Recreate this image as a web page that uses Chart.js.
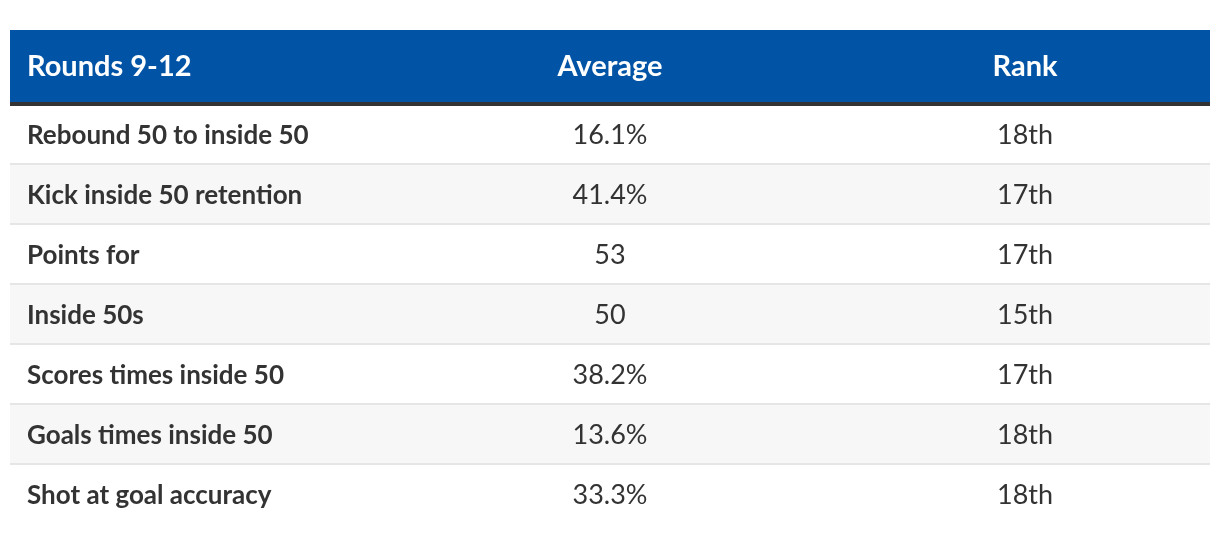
<!DOCTYPE html>
<html>
<head>
<meta charset="utf-8">
<script src="https://cdn.jsdelivr.net/npm/chart.js@4"></script>
<style>
  html, body { margin: 0; padding: 0; background: #fff; }
  #wrap { width: 1220px; height: 534px; position: relative; }
</style>
</head>
<body>
<div id="wrap"><canvas id="tableChart"></canvas></div>
<script>
const headers = ["Rounds 9-12", "Average", "Rank"];
const metrics = [
  "Rebound 50 to inside 50",
  "Kick inside 50 retention",
  "Points for",
  "Inside 50s",
  "Scores times inside 50",
  "Goals times inside 50",
  "Shot at goal accuracy"
];
const averages = ["16.1%", "41.4%", "53", "50", "38.2%", "13.6%", "33.3%"];
const ranks = ["18th", "17th", "17th", "15th", "17th", "18th", "18th"];

// column edges on the x scale (0..12)
const colEdges = [0, 3.7, 8.3, 12];
const FONT = "Lato, 'Open Sans', sans-serif";

const tablePlugin = {
  id: "tablePlugin",
  afterDatasetsDraw(chart) {
    const { ctx, chartArea } = chart;
    const x = chart.scales.x;
    const y = chart.scales.y;

    // row dividers
    ctx.save();
    ctx.strokeStyle = "#e6e6e6";
    ctx.lineWidth = 2;
    for (let i = 0; i < metrics.length - 1; i++) {
      const yy = (y.getPixelForValue(i) + y.getPixelForValue(i + 1)) / 2 - 1;
      ctx.beginPath();
      ctx.moveTo(chartArea.left, yy);
      ctx.lineTo(chartArea.right, yy);
      ctx.stroke();
    }

    // cells
    ctx.fillStyle = "#333333";
    ctx.textBaseline = "alphabetic";
    const c1 = x.getPixelForValue(colEdges[0]) + 17;
    const c2 = (x.getPixelForValue(colEdges[1]) + x.getPixelForValue(colEdges[2])) / 2;
    const c3 = (x.getPixelForValue(colEdges[2]) + x.getPixelForValue(colEdges[3])) / 2;
    metrics.forEach((m, i) => {
      const base = y.getPixelForValue(i) + 9;
      ctx.font = "bold 26px " + FONT;
      ctx.textAlign = "left";
      ctx.fillText(m, c1, base);
      ctx.font = "27px " + FONT;
      ctx.textAlign = "center";
      ctx.fillText(averages[i], c2, base);
      ctx.fillText(ranks[i], c3, base);
    });

    // header
    const top = chartArea.top - 75;
    ctx.fillStyle = "#0053a5";
    ctx.fillRect(chartArea.left, top, chartArea.right - chartArea.left, 72);
    ctx.fillStyle = "#333333";
    ctx.fillRect(chartArea.left, top + 72, chartArea.right - chartArea.left, 4);
    ctx.fillStyle = "#ffffff";
    ctx.font = "bold 29px " + FONT;
    ctx.textAlign = "left";
    ctx.fillText(headers[0], c1, top + 46);
    ctx.textAlign = "center";
    ctx.fillText(headers[1], c2, top + 46);
    ctx.fillText(headers[2], c3, top + 46);
    ctx.restore();
  }
};

new Chart(document.getElementById("tableChart"), {
  type: "bar",
  data: {
    labels: metrics,
    datasets: [{
      data: metrics.map(() => [colEdges[0], colEdges[3]]),
      backgroundColor: metrics.map((m, i) => i % 2 ? "#f7f7f7" : "#ffffff"),
      barPercentage: 1,
      categoryPercentage: 1,
      borderWidth: 0
    }]
  },
  options: {
    indexAxis: "y",
    responsive: true,
    maintainAspectRatio: false,
    animation: false,
    layout: { padding: { left: 10, right: 10, top: 105, bottom: 9 } },
    plugins: { legend: { display: false }, tooltip: { enabled: false } },
    scales: {
      x: { display: false, min: colEdges[0], max: colEdges[3] },
      y: { display: false }
    }
  },
  plugins: [tablePlugin]
});
</script>
</body>
</html>
